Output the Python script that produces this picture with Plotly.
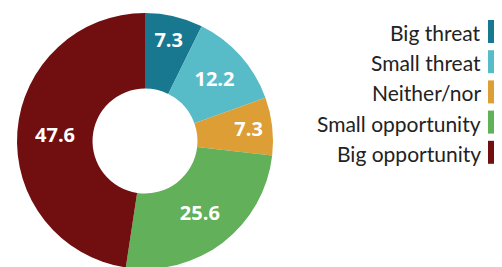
import plotly.graph_objects as go

labels = ["Big threat", "Small threat", "Neither/nor", "Small opportunity", "Big opportunity"]
values = [7.3, 12.2, 7.3, 25.6, 47.6]
colors = ["#177890", "#58BBC8", "#DC9E35", "#62B05A", "#710E10"]

W, H = 502, 267

fig = go.Figure()
fig.add_trace(go.Pie(
    labels=labels,
    values=values,
    text=[f"{v:.1f}" for v in values],
    textinfo="text",
    textposition="inside",
    insidetextorientation="horizontal",
    textfont=dict(family="Open Sans", size=20, color="white", weight="bold"),
    marker=dict(colors=colors, line=dict(width=0)),
    hole=0.41,
    sort=False,
    direction="clockwise",
    rotation=0,
    showlegend=False,
    domain=dict(x=[9 / W, 265 / W], y=[6 / H, 262 / H]),
))

# custom legend: right-aligned text with swatch on the right
y0, pitch = 23.5, 30.2
for i, (lab, col) in enumerate(zip(labels, colors)):
    cy = y0 + i * pitch
    fig.add_shape(type="rect", xref="paper", yref="paper",
                  x0=480 / W, x1=492 / W,
                  y0=1 - (cy + 11.5) / H, y1=1 - (cy - 11.5) / H,
                  fillcolor=col, line=dict(width=0))
    fig.add_annotation(xref="paper", yref="paper", x=475 / W, y=1 - (cy + 1) / H,
                       text=lab, showarrow=False, xanchor="right", yanchor="middle",
                       font=dict(family="Lato", size=21, color="#222222"))

fig.update_layout(
    width=W, height=H,
    margin=dict(l=0, r=0, t=0, b=0),
    paper_bgcolor="white", plot_bgcolor="white",
)
fig.write_html("out.html")
